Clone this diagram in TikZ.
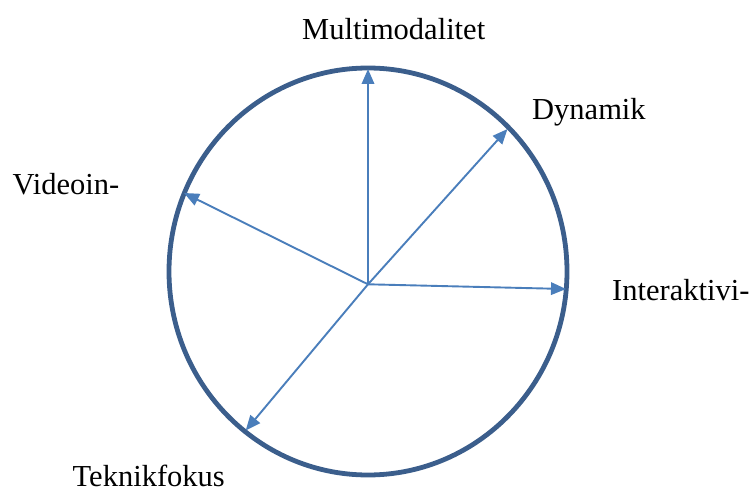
\documentclass[tikz,border=0pt]{standalone}
\usepackage{fontspec}
\setmainfont{Liberation Serif}
\usetikzlibrary{arrows.meta}
\definecolor{ringblue}{HTML}{3B5E8C}
\definecolor{arrowblue}{HTML}{4A7EBB}
\tikzset{
  ray/.style={draw=arrowblue, line width=1.9pt, -{Triangle[length=15pt,width=12.5pt]}},
  lbl/.style={anchor=base west, inner sep=0pt, font=\fontsize{30.5}{36}\selectfont}
}
\begin{document}
\begin{tikzpicture}[x=1pt,y=-1pt]
\useasboundingbox (0,0) rectangle (755,492);
\draw[ringblue, line width=4.8pt] (368,271.5) ellipse [x radius=199, y radius=203.5];
\coordinate (O) at (368,284.3);
\coordinate (tU) at (368,69);
\coordinate (tD) at (507.5,129);
\coordinate (tR) at (566,289);
\coordinate (tL) at (184,193);
\coordinate (tB) at (245.7,430.5);
\draw[ray] (O) -- (tU);
\draw[ray] (O) -- (tD);
\draw[ray] (O) -- (tR);
\draw[ray] (O) -- (tL);
\draw[ray] (O) -- (tB);
\node[lbl] (multi) at (302,39.3) {Multimodalitet};
\node[lbl] (dyn) at (532,119.3) {Dynamik};
\node[lbl] (video) at (12.5,194.3) {Videoin-};
\node[lbl] (inter) at (612,300) {Interaktivi-};
\node[lbl] (tek) at (72.5,486.7) {Teknikfokus};
\end{tikzpicture}
\end{document}
